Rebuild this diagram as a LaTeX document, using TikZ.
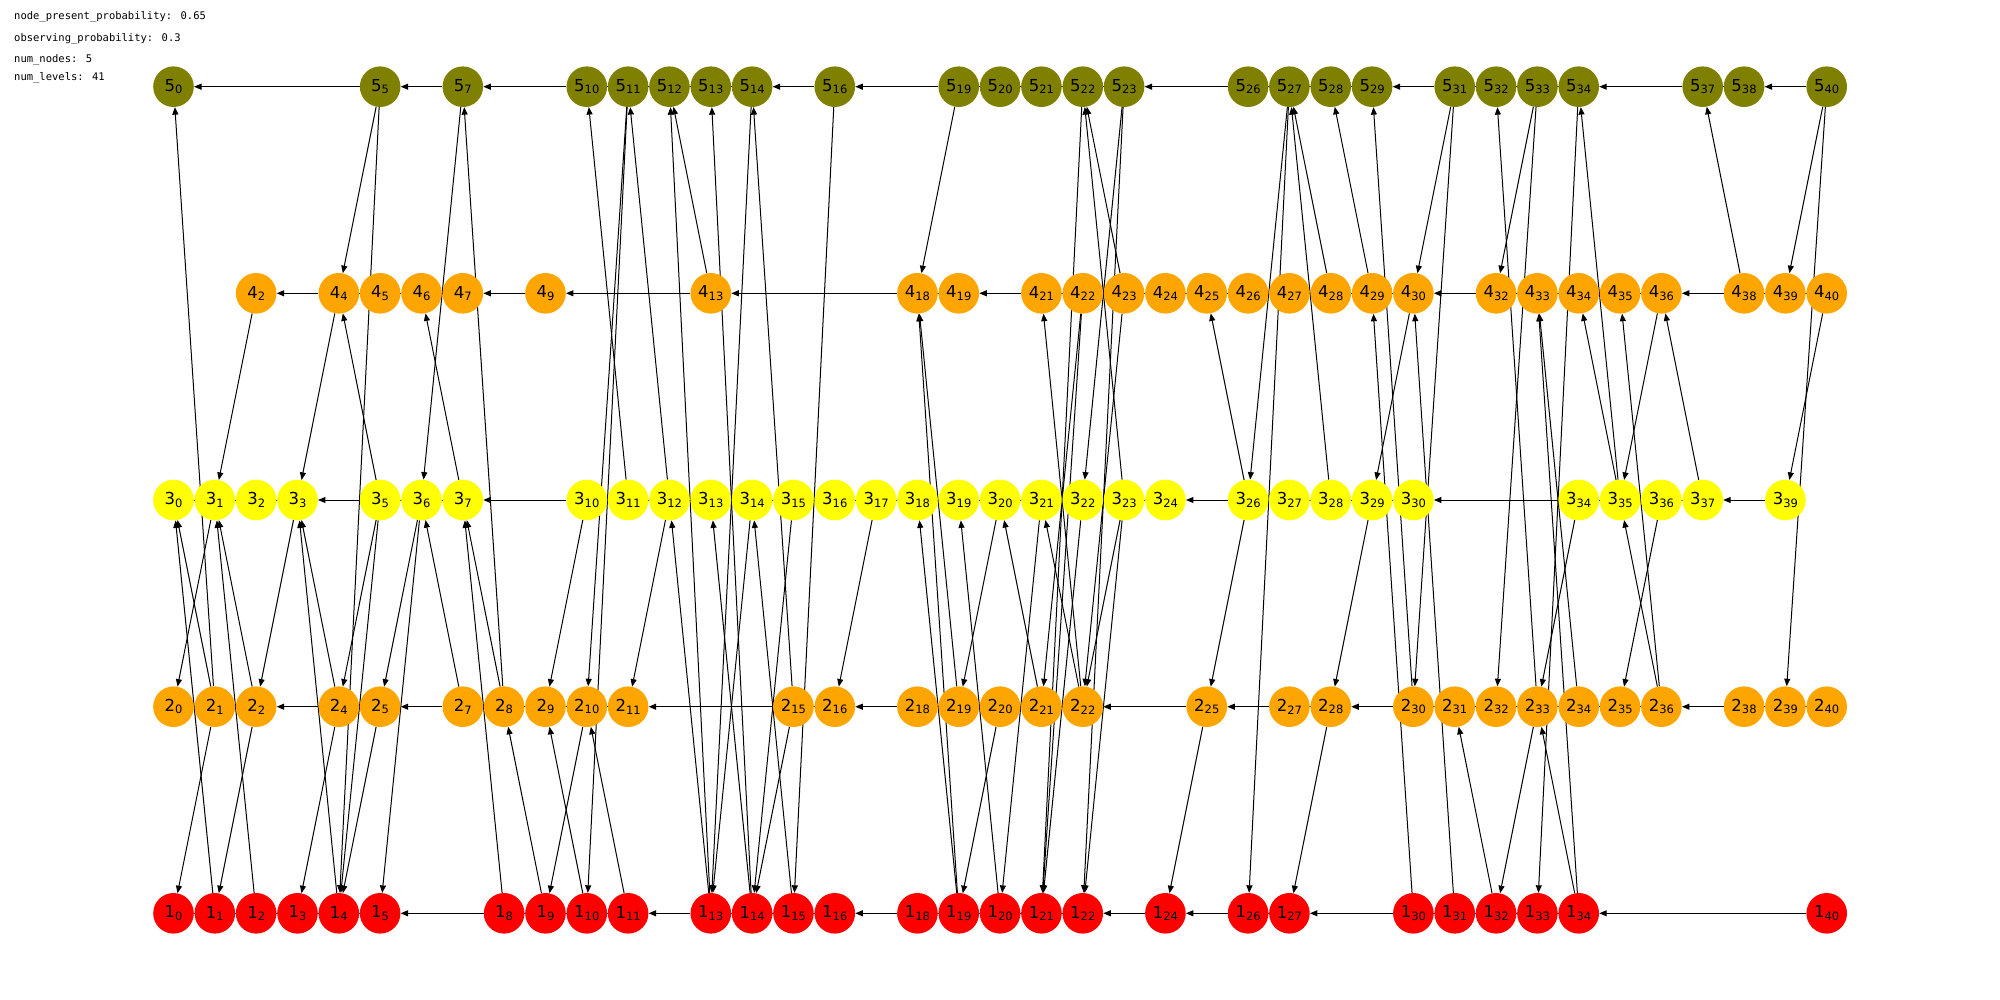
\documentclass[tikz,border=0pt]{standalone}
\usepackage{fontspec}
\setmainfont{DejaVu Sans}
\newfontfamily\monofont{DejaVu Sans Mono}
\usetikzlibrary{arrows.meta}
\pgfdeclarelayer{bg}
\pgfsetlayers{bg,main}
\definecolor{lfive}{HTML}{808000}
\definecolor{lfour}{HTML}{FFA500}
\definecolor{lthree}{HTML}{FFFF00}
\definecolor{ltwo}{HTML}{FFA500}
\definecolor{lone}{HTML}{FF0000}
% node label: level digit with the time index as subscript
\newcommand{\vlab}[2]{#1\raisebox{-2.5pt}{\fontsize{11.5}{12}\selectfont #2}}
\begin{document}
\begin{tikzpicture}[x=1pt,y=-1pt,
  vert/.style={circle, minimum size=40.6pt, inner sep=0pt, draw=none,
    font=\fontsize{16.5}{18}\selectfont},
  edge/.style={draw=black, line width=1pt, -{Triangle[length=7.5pt,width=6pt]}},
  adj/.style={draw=black, line width=1pt},
  info/.style={anchor=west, inner sep=0pt, font=\monofont\fontsize{10.5}{12}\selectfont}]
\useasboundingbox (0,0) rectangle (2000,1000);

% parameters
\node[info] (t1) at (14,16.6) {node\_present\_probability: 0.65};
\node[info] (t2) at (14,39) {observing\_probability: 0.3};
\node[info] (t3) at (14,60) {num\_nodes: 5};
\node[info] (t4) at (14,78) {num\_levels: 41};

% nodes of each level
\foreach \i in {0,5,7,10,11,12,13,14,16,19,20,21,22,23,26,27,28,29,31,32,33,34,37,38,40}
  \node[vert, fill=lfive] (n5-\i) at ({173.5+41.33*\i},86.7) {\vlab{5}{\i}};
\foreach \i in {2,4,5,6,7,9,13,18,19,21,22,23,24,25,26,27,28,29,30,32,33,34,35,36,38,39,40}
  \node[vert, fill=lfour] (n4-\i) at ({173.5+41.33*\i},293.3) {\vlab{4}{\i}};
\foreach \i in {0,1,2,3,5,6,7,10,11,12,13,14,15,16,17,18,19,20,21,22,23,24,26,27,28,29,30,34,35,36,37,39}
  \node[vert, fill=lthree] (n3-\i) at ({173.5+41.33*\i},500) {\vlab{3}{\i}};
\foreach \i in {0,1,2,4,5,7,8,9,10,11,15,16,18,19,20,21,22,25,27,28,30,31,32,33,34,35,36,38,39,40}
  \node[vert, fill=ltwo] (n2-\i) at ({173.5+41.33*\i},706.7) {\vlab{2}{\i}};
\foreach \i in {0,1,2,3,4,5,8,9,10,11,13,14,15,16,18,19,20,21,22,24,26,27,30,31,32,33,34,40}
  \node[vert, fill=lone] (n1-\i) at ({173.5+41.33*\i},913.3) {\vlab{1}{\i}};

\begin{pgfonlayer}{bg}
% links to the previous node on the same level
\foreach \l/\lst in {5/{0,5,7,10,11,12,13,14,16,19,20,21,22,23,26,27,28,29,31,32,33,34,37,38,40},
                     4/{2,4,5,6,7,9,13,18,19,21,22,23,24,25,26,27,28,29,30,32,33,34,35,36,38,39,40},
                     3/{0,1,2,3,5,6,7,10,11,12,13,14,15,16,17,18,19,20,21,22,23,24,26,27,28,29,30,34,35,36,37,39},
                     2/{0,1,2,4,5,7,8,9,10,11,15,16,18,19,20,21,22,25,27,28,30,31,32,33,34,35,36,38,39,40},
                     1/{0,1,2,3,4,5,8,9,10,11,13,14,15,16,18,19,20,21,22,24,26,27,30,31,32,33,34,40}}{
  \foreach \i [remember=\i as \p (initially -1)] in \lst {
    \ifnum\p>-1
      \ifnum\numexpr\i-\p\relax=1
        \draw[adj] (n\l-\i.center) -- (n\l-\p.center);
      \else
        \draw[edge] (n\l-\i) -- (n\l-\p);
      \fi
    \fi
  }
}
% links between levels
\foreach \s/\t in {
  2-1/5-0, 2-1/3-0, 3-1/2-0, 2-1/1-0, 1-1/3-0,
  2-2/3-1, 1-2/3-1, 4-2/3-1, 2-2/1-1,
  3-3/2-2,
  4-4/3-3, 2-4/1-3, 2-4/3-3, 1-4/3-3,
  5-5/4-4, 5-5/1-4, 3-5/4-4, 3-5/2-4, 3-5/1-4, 2-5/1-4,
  3-6/1-5, 3-6/2-5,
  5-7/3-6, 3-7/4-6, 2-7/3-6,
  2-8/5-7, 2-8/3-7, 1-8/3-7,
  1-9/2-8,
  3-10/2-9, 1-10/2-9, 2-10/1-9,
  3-11/5-10, 5-11/2-10, 5-11/1-10, 1-11/2-10,
  3-12/5-11, 3-12/2-11,
  4-13/5-12, 1-13/5-12, 1-13/3-12,
  1-14/5-13, 5-14/1-13, 3-14/1-13, 1-14/3-13,
  2-15/5-14, 2-15/1-14, 1-15/3-14, 3-15/1-14,
  5-16/1-15,
  3-17/2-16,
  5-19/4-18, 1-19/4-18, 2-19/4-18, 1-19/3-18,
  3-20/2-19, 1-20/3-19, 2-20/1-19,
  2-21/3-20, 3-21/1-20,
  5-22/1-21, 4-22/2-21, 4-22/1-21, 2-22/4-21, 2-22/3-21, 3-22/1-21,
  4-23/5-22, 3-23/5-22, 5-23/3-22, 5-23/1-22, 4-23/2-22, 3-23/2-22, 3-23/1-22,
  2-25/1-24,
  3-26/4-25, 3-26/2-25,
  5-27/3-26, 5-27/1-26,
  4-28/5-27, 3-28/5-27, 2-28/1-27,
  4-29/5-28, 3-29/2-28,
  2-30/5-29, 4-30/3-29, 1-30/4-29,
  5-31/4-30, 5-31/2-30, 1-31/4-30,
  1-32/2-31,
  5-33/4-32, 5-33/2-32, 2-33/5-32, 2-33/1-32,
  5-34/1-33, 1-34/4-33, 2-34/4-33, 3-34/2-33, 1-34/2-33,
  3-35/5-34, 3-35/4-34,
  2-36/4-35, 2-36/3-35, 3-36/2-35, 4-36/3-35,
  3-37/4-36,
  4-38/5-37,
  5-40/4-39, 5-40/2-39, 4-40/3-39}
  \draw[edge] (n\s) -- (n\t);
\end{pgfonlayer}
\end{tikzpicture}
\end{document}
